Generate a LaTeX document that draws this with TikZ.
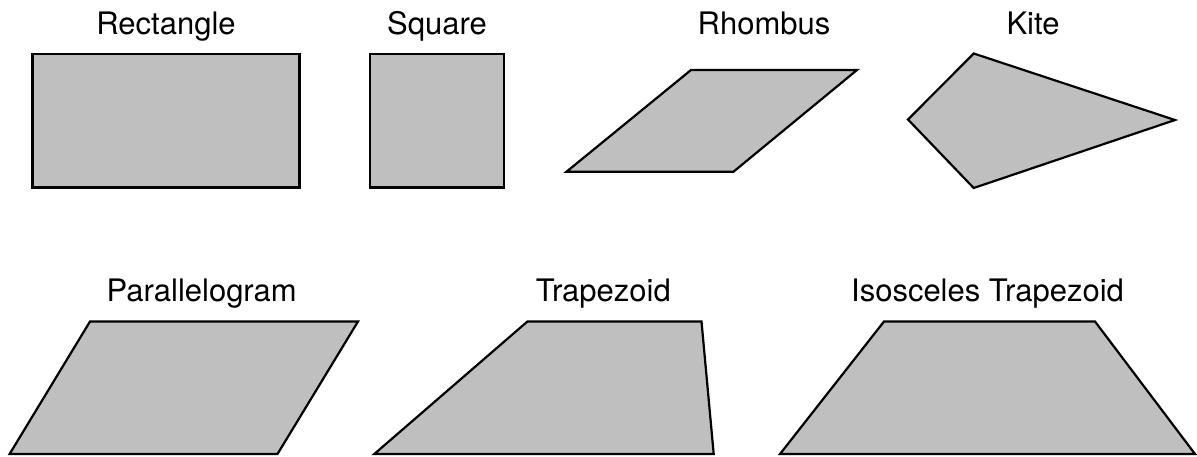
\documentclass[tikz,border=0pt]{standalone}
\usepackage{fontspec}
\setmainfont{TeX Gyre Heros}
\definecolor{shapegray}{RGB}{191,191,191}
\tikzset{
  quad/.style={draw=black, fill=shapegray, line width=2.2pt, line join=miter},
  lbl/.style={anchor=base, inner sep=0pt, font=\fontsize{31}{36}\selectfont}
}
\begin{document}
\begin{tikzpicture}[x=1pt,y=-1pt]
\useasboundingbox (0,0) rectangle (1197,456);
% Row 1
\node[lbl] (lrect) at (166,34) {Rectangle};
\node[lbl] (lsq) at (437,34) {Square};
\node[lbl] (lrh) at (764,34) {Rhombus};
\node[lbl] (lkite) at (1033,34) {Kite};
\draw[quad] (32.5,54) rectangle (299.5,187.5);
\draw[quad] (370,54) rectangle (504,187.5);
\draw[quad] (566.5,171.7) -- (691,70) -- (857,70) -- (733.5,171.7) -- cycle;
\draw[quad] (973.7,53.5) -- (1175,120) -- (973.7,188) -- (908,119.5) -- cycle;
% Row 2
\node[lbl] (lpar) at (201.7,301) {Parallelogram};
\node[lbl] (ltrap) at (603.3,301) {Trapezoid};
\node[lbl] (liso) at (987.5,301) {Isosceles Trapezoid};
\draw[quad] (9.6,454) -- (90,321.5) -- (358,321.5) -- (277.5,454) -- cycle;
\draw[quad] (374.3,454) -- (527.4,321.5) -- (701.5,321.5) -- (713.7,454) -- cycle;
\draw[quad] (780,454) -- (884,321.5) -- (1095,321.5) -- (1195,454) -- cycle;
\end{tikzpicture}
\end{document}
